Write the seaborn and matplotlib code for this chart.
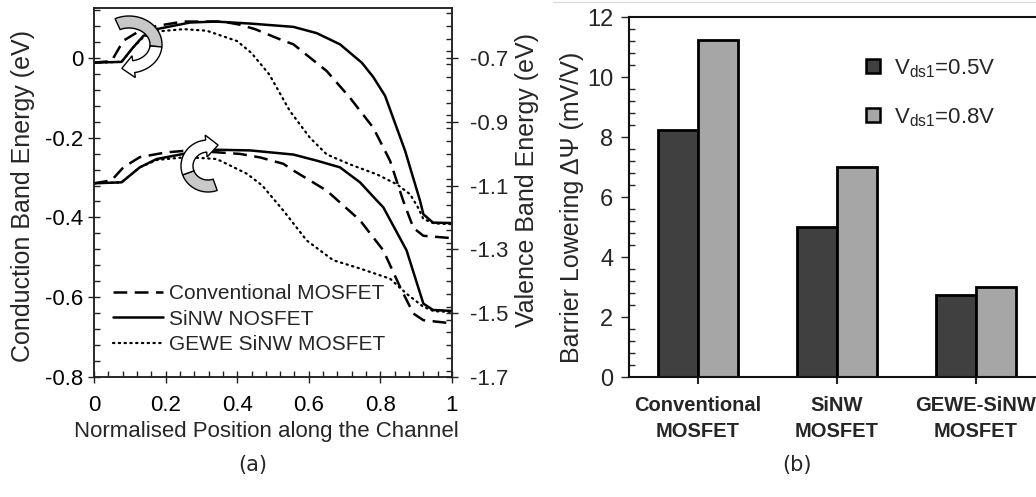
import numpy as np
import pandas as pd
import matplotlib
matplotlib.use("Agg")
import matplotlib.pyplot as plt
import seaborn as sns
from matplotlib.lines import Line2D
from matplotlib.patches import Polygon
from matplotlib.ticker import MultipleLocator
from matplotlib.transforms import IdentityTransform

# ---------------- data : panel (a) ----------------
# conduction band (left axis)
cb_conv_x = [0, 0.049, 0.082, 0.128, 0.175, 0.249, 0.36, 0.408, 0.45, 0.529, 0.557, 0.65, 0.715, 0.78, 0.827, 0.864, 0.892, 0.92, 1.0]
cb_conv_y = [-0.012, -0.008, 0.043, 0.068, 0.080, 0.091, 0.091, 0.083, 0.072, 0.043, 0.034, -0.033, -0.100, -0.175, -0.258, -0.359, -0.426, -0.446, -0.452]

cb_sinw_x = [0, 0.077, 0.109, 0.138, 0.175, 0.268, 0.34, 0.436, 0.557, 0.622, 0.687, 0.748, 0.78, 0.813, 0.869, 0.911, 0.92, 0.947, 1.0]
cb_sinw_y = [-0.012, -0.010, 0.026, 0.055, 0.072, 0.0886, 0.091, 0.086, 0.0777, 0.062, 0.034, -0.012, -0.048, -0.095, -0.233, -0.359, -0.392, -0.413, -0.414]

cb_gewe_x = [0, 0.077, 0.109, 0.138, 0.175, 0.25, 0.315, 0.40, 0.44, 0.49, 0.547, 0.603, 0.65, 0.715, 0.79, 0.846, 0.883, 0.905, 0.92, 0.95, 1.0]
cb_gewe_y = [-0.012, -0.010, 0.026, 0.052, 0.066, 0.072, 0.068, 0.042, 0.012, -0.042, -0.133, -0.200, -0.242, -0.267, -0.292, -0.317, -0.342, -0.375, -0.404, -0.415, -0.417]

# valence band (right axis)
vb_conv_x = [0, 0.049, 0.082, 0.128, 0.203, 0.268, 0.408, 0.464, 0.529, 0.557, 0.65, 0.743, 0.808, 0.855, 0.892, 0.92, 1.0]
vb_conv_y = [-1.093, -1.084, -1.043, -1.011, -0.996, -0.990, -1.001, -1.012, -1.032, -1.053, -1.116, -1.209, -1.303, -1.418, -1.501, -1.522, -1.532]

vb_sinw_x = [0, 0.077, 0.128, 0.175, 0.25, 0.343, 0.436, 0.557, 0.622, 0.687, 0.743, 0.79, 0.808, 0.873, 0.92, 0.947, 1.0]
vb_sinw_y = [-1.093, -1.090, -1.043, -1.017, -1.001, -0.988, -0.990, -1.003, -1.022, -1.043, -1.090, -1.147, -1.168, -1.303, -1.470, -1.490, -1.493]

vb_gewe_x = [0, 0.077, 0.128, 0.175, 0.259, 0.343, 0.427, 0.47, 0.53, 0.594, 0.668, 0.743, 0.827, 0.873, 0.92, 0.95, 1.0]
vb_gewe_y = [-1.093, -1.090, -1.043, -1.020, -1.011, -1.017, -1.063, -1.100, -1.180, -1.272, -1.334, -1.360, -1.392, -1.439, -1.480, -1.494, -1.496]

line_labels = ["Conventional MOSFET", "SiNW NOSFET", "GEWE SiNW MOSFET"]

# ---------------- data : panel (b) ----------------
bar_cats = ["Conventional\nMOSFET", "SiNW\nMOSFET", "GEWE-SiNW\nMOSFET"]
bar_v05 = [8.25, 5.0, 2.75]
bar_v08 = [11.25, 7.0, 3.0]
bar_series = [r"V$_{\mathrm{ds1}}$=0.5V", r"V$_{\mathrm{ds1}}$=0.8V"]

# ---------------- style ----------------
sns.set_theme(style="ticks")
plt.rcParams["font.family"] = ["Liberation Sans", "DejaVu Sans"]
plt.rcParams["mathtext.fontset"] = "custom"
plt.rcParams["mathtext.rm"] = "Liberation Sans"
plt.rcParams["mathtext.it"] = "Liberation Sans:italic"
plt.rcParams["mathtext.bf"] = "Liberation Sans:bold"
plt.rcParams["axes.unicode_minus"] = False

W, H = 1036, 497
fig = plt.figure(figsize=(W / 100, H / 100), dpi=100)

ax = fig.add_axes([94 / W, (H - 377) / H, 358 / W, 369 / H])
ax2 = ax.twinx()

styles = {
    "dash": dict(linewidth=1.8, linestyle=(0, (5.5, 3.0))),
    "solid": dict(linewidth=1.8, linestyle="-"),
    "dot": dict(linewidth=1.6, linestyle=(0, (0.6, 2.0)), dash_capstyle="round"),
}

for xs, ys, st in [(cb_conv_x, cb_conv_y, "dash"), (cb_sinw_x, cb_sinw_y, "solid"), (cb_gewe_x, cb_gewe_y, "dot")]:
    sns.lineplot(x=xs, y=ys, ax=ax, color="black", estimator=None, sort=False, **styles[st])
for xs, ys, st in [(vb_conv_x, vb_conv_y, "dash"), (vb_sinw_x, vb_sinw_y, "solid"), (vb_gewe_x, vb_gewe_y, "dot")]:
    sns.lineplot(x=xs, y=ys, ax=ax2, color="black", estimator=None, sort=False, **styles[st])

ax.set_xlim(0, 1)
ax.set_ylim(-0.8, 0.125)
ax2.set_ylim(-1.7, -0.54375)
ax.xaxis.set_major_locator(MultipleLocator(0.2))
ax.xaxis.set_minor_locator(MultipleLocator(0.04))
ax.yaxis.set_major_locator(MultipleLocator(0.2))
ax.yaxis.set_minor_locator(MultipleLocator(0.04))
ax2.set_yticks([-1.7, -1.5, -1.3, -1.1, -0.9, -0.7])
ax2.yaxis.set_minor_locator(MultipleLocator(0.04))
ax.set_xticks([0, 0.2, 0.4, 0.6, 0.8, 1.0])
ax.set_xticklabels(["0", "0.2", "0.4", "0.6", "0.8", "1"])
ax.set_yticks([-0.8, -0.6, -0.4, -0.2, 0])
ax.set_yticklabels(["-0.8", "-0.6", "-0.4", "-0.2", "0"])
ax2.set_yticklabels(["-1.7", "-1.5", "-1.3", "-1.1", "-0.9", "-0.7"])

for a in (ax, ax2):
    for s in a.spines.values():
        s.set_linewidth(1.1)
        s.set_color("#222222")
ax.tick_params(axis="both", which="major", direction="inout", length=8.6, width=1.0, color="#222222", labelsize=16, labelcolor="black")
ax.tick_params(axis="both", which="minor", direction="in", length=4.3, width=1.0, color="#222222")
ax.tick_params(axis="x", which="major", pad=8.5)
ax.tick_params(axis="y", which="major", pad=3.5)
ax2.tick_params(axis="y", which="major", direction="inout", length=8.6, width=1.0, color="#222222", labelsize=16, pad=9)
ax2.tick_params(axis="y", which="minor", direction="in", length=4.3, width=1.0, color="#222222")

ax.set_xlabel("Normalised Position along the Channel", fontsize=16)
ax.xaxis.label.set_va("center")
ax.xaxis.set_label_coords((266 - 94) / 358, (377 - 432) / 369)
ax.set_ylabel("Conduction Band Energy (eV)", fontsize=18)
ax.yaxis.label.set_va("center")
ax.yaxis.set_label_coords((23 - 94) / 358, (377 - 196) / 369)
ax2.set_ylabel("Valence Band Energy (eV)", fontsize=18)
ax2.yaxis.label.set_va("center")
ax2.yaxis.set_label_coords((527 - 94) / 358, (377 - 180) / 369)

leg_handles = [
    Line2D([], [], color="black", **styles["dash"]),
    Line2D([], [], color="black", **styles["solid"]),
    Line2D([], [], color="black", **styles["dot"]),
]
fig.legend(leg_handles, line_labels, loc="upper left", bbox_to_anchor=(113 / W, 1 - 284 / H),
           bbox_transform=fig.transFigure, frameon=False, fontsize=15, handlelength=2.4,
           handletextpad=0.3, labelspacing=0.32, borderpad=0, borderaxespad=0)


# decorative curved arrows (pixel geometry)
def curved_arrow(cx, cy, rx, ry, a0, asplit, a1, w=12, hw=22, hl=12):
    cyd = H - cy

    def ring(off, angs):
        return np.column_stack([cx + (rx + off) * np.cos(angs), cyd + (ry + off) * np.sin(angs)])

    ang_g = np.radians(np.linspace(a0, asplit, 40))
    ang_w = np.radians(np.linspace(asplit, a1, 40))
    gray = np.vstack([ring(w / 2, ang_g), ring(-w / 2, ang_g[::-1])])
    a = np.radians(a1)
    P = np.array([cx + rx * np.cos(a), cyd + ry * np.sin(a)])
    t = np.array([rx * np.sin(a), -ry * np.cos(a)])
    t /= np.linalg.norm(t)
    n = np.array([-t[1], t[0]])
    outer = ring(w / 2, ang_w)
    inner = ring(-w / 2, ang_w[::-1])
    b1, b2 = P + n * hw / 2, P - n * hw / 2
    if np.linalg.norm(b1 - outer[-1]) > np.linalg.norm(b2 - outer[-1]):
        b1, b2 = b2, b1
    tip = P + t * hl
    white = np.vstack([outer, b1, tip, b2, inner])
    for pts, fc in ((gray, "#c8c8c8"), (white, "white")):
        fig.add_artist(Polygon(pts, closed=True, facecolor=fc, edgecolor="black", linewidth=1.0,
                               transform=IdentityTransform(), zorder=10))


curved_arrow(129, 44.5, 27, 22.5, 115, -5, -80)
curved_arrow(208, 166, 21, 20, -70, -160, -265)

# ---------------- panel (b) ----------------
bx = fig.add_axes([628.5 / W, (H - 377) / H, 417 / W, 360 / H])
df = pd.DataFrame({
    "cat": bar_cats * 2,
    "val": bar_v05 + bar_v08,
    "series": [bar_series[0]] * 3 + [bar_series[1]] * 3,
})
bar_colors = ["#404040", "#a6a6a6"]
sns.barplot(data=df, x="cat", y="val", hue="series", palette=bar_colors, saturation=1,
            edgecolor="black", linewidth=2.0, width=0.58, gap=0, ax=bx, legend=False)
bx.set_xlim(-0.5, 2.5)
bx.set_ylim(0, 12)
bx.yaxis.set_major_locator(MultipleLocator(2))
bx.yaxis.set_minor_locator(MultipleLocator(0.4))
bx.set_xlabel("")
bx.set_ylabel("Barrier Lowering \u0394\u03a8 (mV/V)", fontsize=18)
bx.yaxis.label.set_va("center")
bx.yaxis.set_label_coords((572 - 628.5) / 417, (377 - 207) / 360)
for s in bx.spines.values():
    s.set_linewidth(1.5)
    s.set_color("#111111")
bx.tick_params(axis="y", which="major", direction="out", length=6, width=1.0, labelsize=17, pad=5)
bx.tick_params(axis="y", which="minor", direction="in", length=4, width=1.0)
bx.tick_params(axis="x", which="major", direction="out", length=5, width=1.5, pad=9)
for lab in bx.get_xticklabels():
    lab.set_fontweight("bold")
    lab.set_fontsize(14.5)
    lab.set_linespacing(1.45)

bar_handles = [Line2D([], [], marker="s", linestyle="none", markersize=9.5, markerfacecolor=c,
                      markeredgecolor="black", markeredgewidth=1.8) for c in bar_colors]
fig.legend(bar_handles, bar_series, loc="upper left", bbox_to_anchor=(862 / W, 1 - 57 / H),
           bbox_transform=fig.transFigure, frameon=False, fontsize=16, handlelength=1.0,
           handletextpad=0.45, labelspacing=1.2, borderpad=0, borderaxespad=0)

# thin border line at top of panel (b)
fig.add_artist(Line2D([553 / W, 1.0], [1 - 1.5 / H, 1 - 1.5 / H], color="#dddddd", linewidth=1.0,
                      transform=fig.transFigure))

# panel captions
fig.text(253 / W, 1 - 465 / H, "(a)", family="DejaVu Sans", fontsize=15, ha="center", va="center")
fig.text(797 / W, 1 - 465 / H, "(b)", family="DejaVu Sans", fontsize=15, ha="center", va="center")

fig.savefig("out.png", dpi=100)
